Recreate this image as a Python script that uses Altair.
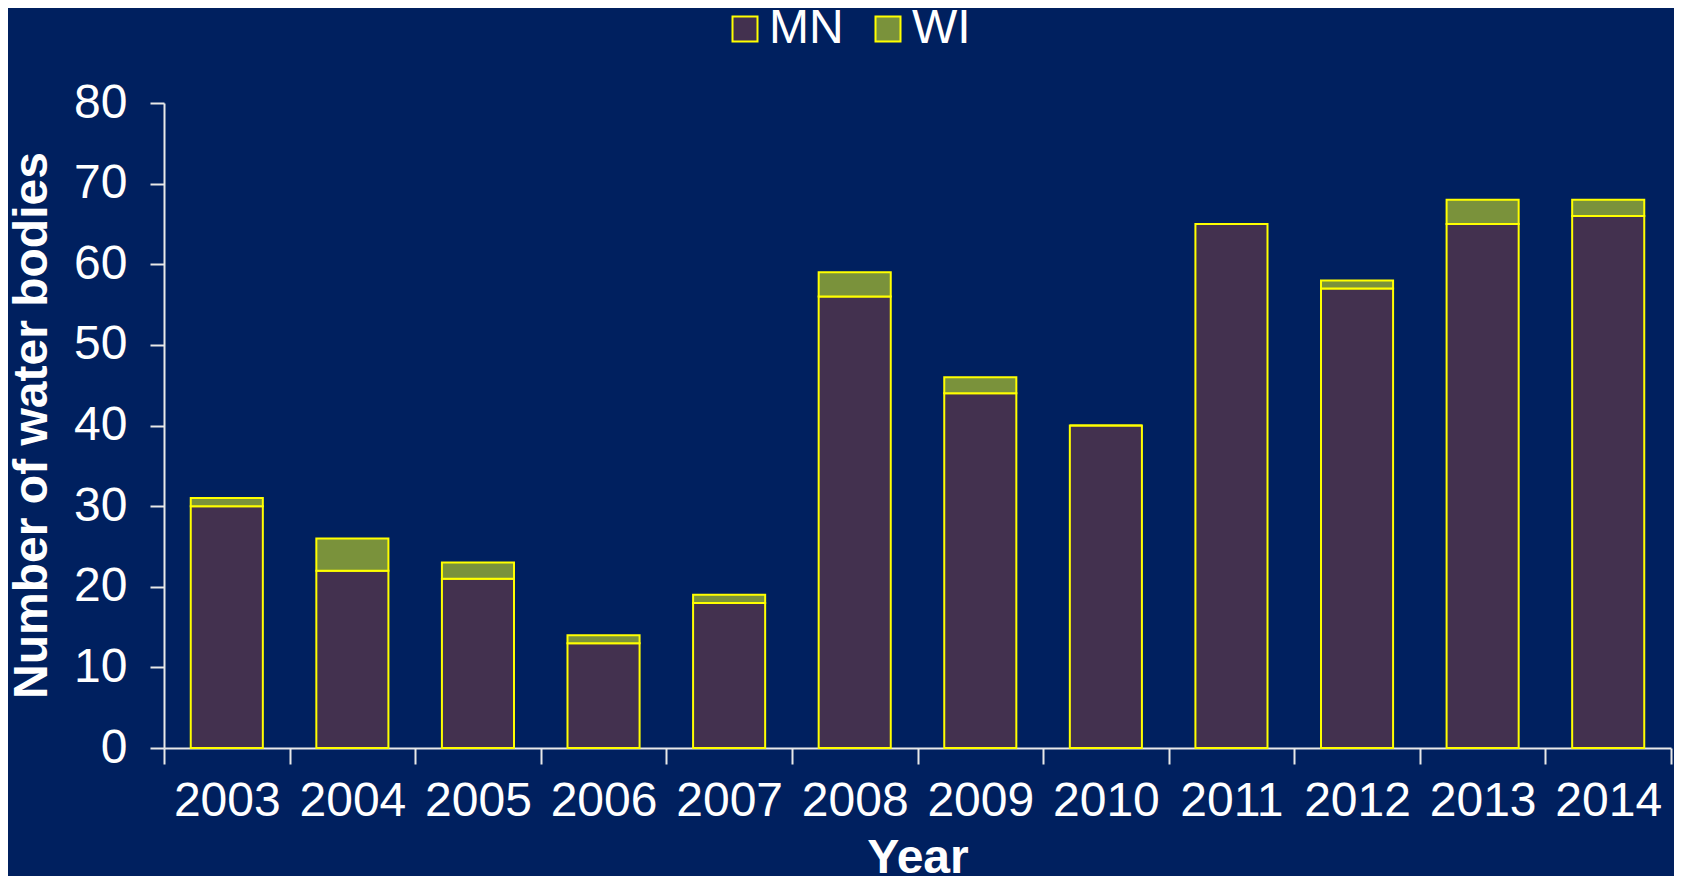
import altair as alt
import pandas as pd

years = ["2003", "2004", "2005", "2006", "2007", "2008", "2009", "2010", "2011", "2012", "2013", "2014"]
mn = [30, 22, 21, 13, 18, 56, 44, 40, 65, 57, 65, 66]
wi = [1, 4, 2, 1, 1, 3, 2, 0, 0, 1, 3, 2]
states = ["MN", "WI"]
colors = ["#43314F", "#7A923B"]

rows = []
for y, a, b in zip(years, mn, wi):
    rows.append({"Year": y, "State": "MN", "Count": a})
    rows.append({"Year": y, "State": "WI", "Count": b})
df = pd.DataFrame(rows)

FONT = "Liberation Sans"

chart = alt.Chart(df).mark_bar(stroke="#FFFF00", strokeWidth=2,
                               width=alt.RelativeBandSize(0.574)).encode(
    x=alt.X("Year:N", sort=years,
            scale=alt.Scale(paddingInner=0, paddingOuter=0),
            axis=alt.Axis(title="Year", labelAngle=0, tickBand="extent",
                          labelFontSize=48, labelPadding=13, tickSize=16,
                          titleFontSize=48, titleFontWeight="bold",
                          titleY=124, titleBaseline="alphabetic")),
    y=alt.Y("Count:Q", stack="zero",
            scale=alt.Scale(domain=[0, 80]),
            axis=alt.Axis(title="Number of water bodies", values=list(range(0, 81, 10)),
                          grid=False, labelFontSize=48, labelPadding=23, tickSize=14,
                          titleFontSize=48, titleFontWeight="bold",
                          titleX=-132, titleY=322, titleAngle=270,
                          titleAlign="center", titleBaseline="middle")),
    color=alt.Color("State:N", scale=alt.Scale(domain=states, range=colors),
                    legend=alt.Legend(title=None, orient="none", direction="horizontal",
                                      legendX=557, legendY=-98,
                                      symbolType="square", symbolSize=625,
                                      symbolStrokeColor="#FFFF00", symbolStrokeWidth=2,
                                      labelFontSize=48, labelOffset=0, columnPadding=20,
                                      labelColor="white", labelFont=FONT)),
    order=alt.Order("State:N", sort="ascending"),
).properties(
    width=1507, height=645,
    background="#00205F",
    padding={"left": 156, "top": 95, "right": 3, "bottom": 128},
    autosize=alt.AutoSizeParams(type="none"),
).configure_view(stroke=None).configure_axis(
    labelColor="white", titleColor="white", domainColor="#E8E8E8",
    tickColor="#E8E8E8", domainWidth=2, tickWidth=2,
    labelFont=FONT, titleFont=FONT,
)

chart.save("out.html", embed_options={"renderer": "svg", "actions": False})
